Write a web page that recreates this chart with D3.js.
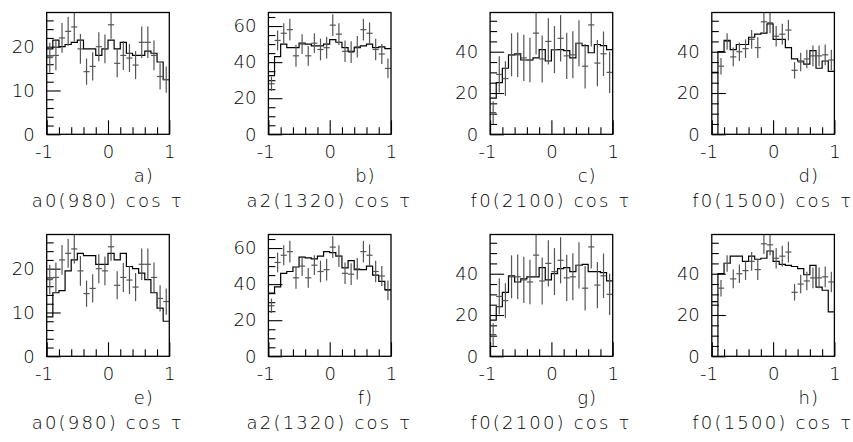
<!DOCTYPE html>
<html>
<head>
<meta charset="utf-8">
<script src="https://cdn.jsdelivr.net/npm/d3@7"></script>
<style>
  body { margin: 0; background: #fff; }
  text { font-family: "DejaVu Sans", sans-serif; font-weight: 200; fill: #000; }
  .tick line { stroke: #000; stroke-width: 1.1; }
</style>
</head>
<body>
<div id="chart"></div>
<script>
// bin low edges (20 bins of width 0.1 on cos tau)
const binLo = [-1.0, -0.9, -0.8, -0.7, -0.6, -0.5, -0.4, -0.3, -0.2, -0.1,
               0.0, 0.1, 0.2, 0.3, 0.4, 0.5, 0.6, 0.7, 0.8, 0.9];
const binW = 0.1;

// data points (same in both rows), with errors
const dataA = [17.5, 18, 22, 23.5, 24.5, 19.5, 14.3, 15.5, 20, 19.5, 25, 16.2, 18, 17.4, 15.8, 21, 21, 18, 13.2, 12.5];
const errA  = [3.4, 3.4, 3.4, 3.3, 3.3, 3.4, 3.0, 3.2, 3.3, 3.3, 3.2, 3.2, 3.3, 3.2, 3.2, 3.6, 3.6, 3.4, 3.0, 3.0];
const dataB = [28, 52, 56, 58, 43.5, 50, 43.5, 50.5, 47, 48, 60.5, 55.5, 46, 45.5, 48.5, 58, 56, 47, 44.5, 36.5];
const errB  = [4, 5.5, 5.5, 6, 6, 5.5, 5.5, 5.5, 6, 6, 6, 6, 6, 6, 6, 6, 6, 6, 5.5, 5.5];
const dataC = [10.5, 29, 27, 38.5, 38.5, 37, 36, 49, 36.5, 45, 41, 46.5, 38, 38.5, 44, 33, 53, 34.5, 39, 30];
const errC  = [5.5, 8.8, 8.4, 10.4, 10.8, 11.2, 10.8, 10.4, 11.4, 11.2, 11.4, 11.2, 11.2, 11.4, 11.2, 10.8, 10.5, 11.2, 10.8, 10];
const dataD = [null, 33, 45, 37.5, 40, 41.5, 46, 42, 54.5, 54, 47.5, 48.5, 50.5, 31, 35, 36.5, 38, 38, 38.5, 36];
const errD  = [0, 4, 4, 4.5, 4.5, 4.5, 4.5, 5, 5, 5, 5, 5, 5, 4, 4.5, 4.5, 5, 5, 5, 5];

// fitted histograms, top row (a-d) and bottom row (e-h)
const histA = [19.5, 21.5, 20, 20.5, 21, 21.5, 19.5, 19.5, 18, 19.5, 21.5, 19.5, 21, 18.5, 18, 18, 19, 18.5, 16.5, 12.5];
const histB = [32.5, 43, 50, 48, 48, 50.5, 50, 49, 49, 50, 52.5, 51, 48, 46, 48, 49, 50, 48, 48.5, 47.5];
const histC = [17.5, 25, 32, 38.5, 39, 36, 36, 37, 41, 35.5, 41, 41, 40.5, 37, 44, 43, 39.5, 43.5, 43, 41];
const histD = [30, 40, 45.5, 41, 43.5, 43.5, 47, 48.5, 49, 53.5, 46, 46, 42, 36.5, 35.5, 34, 40.5, 32, 35.5, 30.5];
const histE = [9, 14.5, 15, 19.5, 22, 23.5, 23, 23, 21, 21, 23.5, 22, 23.5, 20.5, 20, 19, 17.5, 14.5, 11, 8];
const histF = [35, 38.5, 46, 47, 49.5, 55, 54.5, 54, 55.5, 58, 57.5, 55.5, 49, 53, 48, 48, 50, 45, 41.5, 37];
const histG = [17.5, 24, 31, 39, 36, 37.5, 38.5, 38.5, 43, 37, 40, 42.5, 43, 41, 44, 44.5, 41, 41, 40.5, 36.5];
const histH = [26.5, 40, 45, 48.5, 48.5, 46, 48.5, 47, 47.5, 51, 46, 44.5, 44, 43.5, 42.5, 39.5, 44, 33.5, 32, 21.5];

const titles  = ["a0(980) cos \u03c4", "a2(1320) cos \u03c4", "f0(2100) cos \u03c4", "f0(1500) cos \u03c4"];
const letters = ["a)", "b)", "c)", "d)", "e)", "f)", "g)", "h)"];

// y axis settings per column
const yMax   = [27.8, 67.5, 59, 59];
const yMajor = [[0, 10, 20], [0, 20, 40, 60], [0, 20, 40], [0, 20, 40]];
const yMinor = [2, 5, 5, 5];
const xMajor = [-1, 0, 1];
const xMinor = [-0.8, -0.6, -0.4, -0.2, 0.2, 0.4, 0.6, 0.8];

const colData = [dataA, dataB, dataC, dataD];
const colErr  = [errA, errB, errC, errD];
const hists   = [histA, histB, histC, histD, histE, histF, histG, histH];

const W = 853, H = 442;
const frameW = 122.6, frameH = 121.8;
const left0 = 46.7, top0 = 12.5, colStep = 221.7, rowStep = 222;

const svg = d3.select("#chart").append("svg")
    .attr("width", W)
    .attr("height", H);

hists.forEach((hist, k) => {
    const col = k % 4, row = Math.floor(k / 4);
    const g = svg.append("g")
        .attr("transform", `translate(${left0 + col * colStep},${top0 + row * rowStep})`);

    const x = d3.scaleLinear().domain([-1, 1]).range([0, frameW]);
    const y = d3.scaleLinear().domain([0, yMax[col]]).range([frameH, 0]).clamp(true);

    // minor ticks
    const minorY = d3.range(0, yMax[col], yMinor[col]).filter(v => !yMajor[col].includes(v));
    g.append("g")
        .call(d3.axisLeft(y).tickValues(minorY).tickSize(-7).tickFormat(""))
        .call(a => a.select(".domain").remove());
    g.append("g")
        .attr("transform", `translate(0,${frameH})`)
        .call(d3.axisBottom(x).tickValues(xMinor).tickSize(-7).tickFormat(""))
        .call(a => a.select(".domain").remove());

    // major ticks with labels
    g.append("g")
        .call(d3.axisLeft(y).tickValues(yMajor[col]).tickSize(-14).tickPadding(12))
        .call(a => a.select(".domain").remove())
        .call(a => a.selectAll("text").attr("font-size", 18).attr("font-family", null));
    g.append("g")
        .attr("transform", `translate(0,${frameH})`)
        .call(d3.axisBottom(x).tickValues(xMajor).tickSize(-14).tickPadding(11)
            .tickFormat(d => d < 0 ? "-" + (-d) : String(d)))
        .call(a => a.select(".domain").remove())
        .call(a => a.selectAll("text")
            .attr("font-size", 18).attr("font-family", null)
            .attr("text-anchor", d => d < 0 ? "end" : "middle")
            .attr("dx", d => d < 0 ? "0.32em" : 0));

    // fitted histogram as a step line
    const pts = [];
    hist.forEach((v, i) => {
        pts.push([binLo[i], v], [binLo[i] + binW, v]);
        if (i === 0 && col === 3) pts.push([binLo[i] + binW, 0]);
    });
    g.append("path")
        .attr("d", d3.line().x(d => x(d[0])).y(d => y(d[1]))(pts))
        .attr("fill", "none")
        .attr("stroke", "#000")
        .attr("stroke-width", 1.2);

    // data points with error bars
    const pts2 = binLo.map((lo, i) => ({ lo, v: colData[col][i], e: colErr[col][i] }))
        .filter(d => d.v !== null);
    const pg = g.append("g").attr("stroke", "#555").attr("stroke-width", 1.2);
    pg.selectAll(".ebar").data(pts2).join("line")
        .attr("x1", d => x(d.lo + binW / 2)).attr("x2", d => x(d.lo + binW / 2))
        .attr("y1", d => y(d.v - d.e)).attr("y2", d => y(d.v + d.e));
    pg.selectAll(".hbar").data(pts2).join("line")
        .attr("x1", d => x(d.lo)).attr("x2", d => x(d.lo + binW))
        .attr("y1", d => y(d.v)).attr("y2", d => y(d.v));

    // frame
    g.append("rect")
        .attr("width", frameW).attr("height", frameH)
        .attr("fill", "none").attr("stroke", "#000").attr("stroke-width", 1.3);

    // panel letter and title
    g.append("text")
        .attr("x", 97).attr("y", frameH + 47.5)
        .attr("text-anchor", "middle")
        .attr("font-size", 18).attr("letter-spacing", 1)
        .text(letters[k]);
    g.append("text")
        .attr("x", 61).attr("y", frameH + 73)
        .attr("text-anchor", "middle")
        .attr("font-size", 18).attr("letter-spacing", 2.2)
        .text(titles[col]);
});
</script>
</body>
</html>
